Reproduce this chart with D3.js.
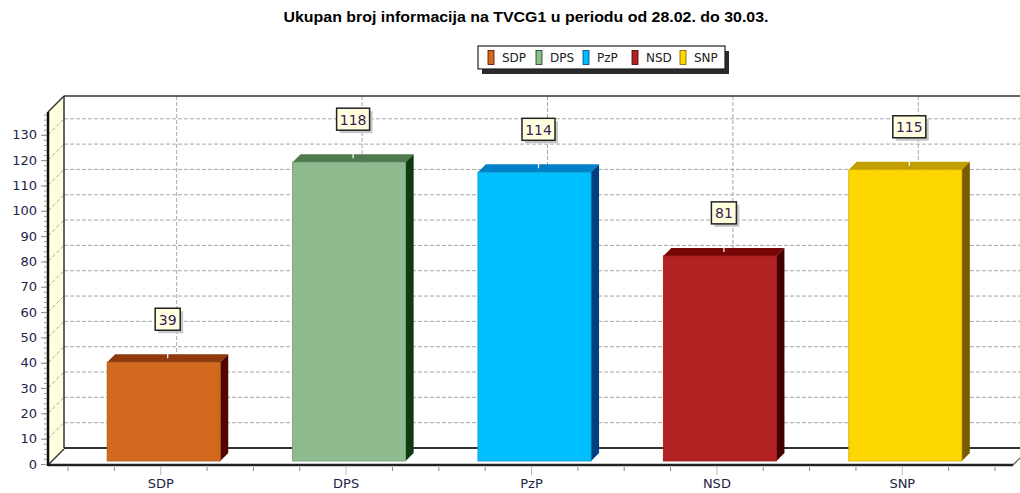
<!DOCTYPE html>
<html>
<head>
<meta charset="utf-8">
<script src="https://cdn.jsdelivr.net/npm/d3@7"></script>
<style>
  html, body { margin: 0; padding: 0; background: #fff; }
  svg { display: block; }
</style>
</head>
<body>
<script>
// chart values
const parties = ["SDP", "DPS", "PzP", "NSD", "SNP"];
const counts = [39, 118, 114, 81, 115];
const frontColors = ["#D2691E", "#8FBC8F", "#00BFFF", "#B22222", "#FFD700"];
const topColors = ["#8e3a0c", "#4f7a4f", "#0080c8", "#780606", "#c29f00"];
const sideColors = ["#520600", "#0f3a10", "#004080", "#450000", "#7a5c00"];
const yTickValues = d3.range(0, 131, 10);
const titleText = "Ukupan broj informacija na TVCG1 u periodu od 28.02. do 30.03.";

const width = 1020, height = 493;
const depth = 16;      // wall depth (px, 45 degrees)
const barShift = 3;    // bars start this far behind the front plane
const barDepth = 8;

const svg = d3.select("body").append("svg")
    .attr("width", width)
    .attr("height", height)
    .attr("viewBox", `0 0 ${width} ${height}`);

const x = d3.scaleBand(parties, [68, 995]).paddingInner(0.39).paddingOuter(0.195);
const y = d3.scaleLinear([0, 139], [464, 112]);

const left = 48, right = 1013;
const y0 = y(0);

// title
svg.append("text")
    .attr("x", 526).attr("y", 22)
    .attr("text-anchor", "middle")
    .attr("font-family", "Liberation Sans, Arial, sans-serif")
    .attr("font-weight", "bold")
    .attr("font-size", 14)
    .attr("textLength", 485)
    .attr("lengthAdjust", "spacingAndGlyphs")
    .attr("fill", "#000")
    .text(titleText);

// legend
const legend = svg.append("g").attr("transform", "translate(478,46)");
legend.append("rect").attr("x", 4).attr("y", 5).attr("width", 247).attr("height", 23).attr("fill", "#2a2a2a");
legend.append("rect").attr("width", 247).attr("height", 23).attr("fill", "#fff")
    .attr("stroke", "#222").attr("stroke-width", 1.2);
const legendX = [10, 58, 105, 154, 202];
parties.forEach((p, i) => {
  legend.append("rect")
      .attr("x", legendX[i]).attr("y", 4.5).attr("width", 6).attr("height", 14)
      .attr("fill", frontColors[i]).attr("stroke", sideColors[i]).attr("stroke-width", 0.8);
  legend.append("text")
      .attr("x", legendX[i] + 14).attr("y", 16)
      .attr("font-family", "DejaVu Sans, Verdana, sans-serif")
      .attr("font-size", 12)
      .attr("fill", "#222")
      .text(p);
});

// back wall
svg.append("rect")
    .attr("x", left + depth).attr("y", y(139) - depth)
    .attr("width", width - left - depth).attr("height", y0 - y(139))
    .attr("fill", "#fff");

// left wall
svg.append("polygon")
    .attr("points", [[left, y(139)], [left + depth, y(139) - depth], [left + depth, y0 - depth], [left, y0]].join(" "))
    .attr("fill", "#ffffe0");

const grid = svg.append("g")
    .attr("stroke", "#a8a8a8")
    .attr("stroke-dasharray", "4,2")
    .attr("fill", "none");

// horizontal gridlines on back wall + diagonals on left wall
yTickValues.filter(v => v > 0).forEach(v => {
  grid.append("line")
      .attr("x1", left + depth).attr("x2", width)
      .attr("y1", y(v) - depth).attr("y2", y(v) - depth);
  grid.append("line")
      .attr("x1", left).attr("x2", left + depth)
      .attr("y1", y(v)).attr("y2", y(v) - depth);
});
// vertical gridlines on back wall
parties.forEach(p => {
  const cx = x(p) + x.bandwidth() / 2 + depth;
  grid.append("line")
      .attr("x1", cx).attr("x2", cx)
      .attr("y1", y(139) - depth).attr("y2", y0 - depth);
});

// floor
svg.append("polygon")
    .attr("points", [[left, y0], [left + depth, y0 - depth], [right + depth, y0 - depth], [right, y0]].join(" "))
    .attr("fill", "#fff");

// frame lines
const frame = svg.append("g").attr("stroke", "#333").attr("fill", "none");
frame.append("line").attr("x1", left + depth).attr("x2", width)
    .attr("y1", y(139) - depth).attr("y2", y(139) - depth).attr("stroke-width", 1.5);
frame.append("line").attr("x1", left + depth).attr("x2", left + depth)
    .attr("y1", y(139) - depth).attr("y2", y0 - depth).attr("stroke-width", 1.5);
frame.append("line").attr("x1", left).attr("x2", left + depth)
    .attr("y1", y(139)).attr("y2", y(139) - depth).attr("stroke-width", 1.5);
frame.append("line").attr("x1", left + depth).attr("x2", width)
    .attr("y1", y0 - depth).attr("y2", y0 - depth).attr("stroke-width", 2);
frame.append("line").attr("x1", left).attr("x2", left + depth)
    .attr("y1", y0 + 1).attr("y2", y0 + 1 - depth).attr("stroke-width", 1.5);
frame.append("line").attr("x1", right).attr("x2", right + depth)
    .attr("y1", y0 + 1).attr("y2", y0 + 1 - depth).attr("stroke-width", 1.2).attr("stroke", "#555");
frame.append("line").attr("x1", left).attr("x2", right)
    .attr("y1", y0 + 1).attr("y2", y0 + 1).attr("stroke-width", 2.5).attr("stroke", "#222");
frame.append("line").attr("x1", left).attr("x2", left)
    .attr("y1", y(139)).attr("y2", y0 + 2).attr("stroke-width", 2.5).attr("stroke", "#111");

// y axis
const yAxis = d3.axisLeft(y).tickValues(yTickValues).tickSize(6).tickPadding(4);
svg.append("g")
    .attr("transform", `translate(${left - 1},0)`)
    .call(yAxis)
    .call(g => g.select(".domain").remove())
    .call(g => g.selectAll(".tick line").attr("stroke", "#888"))
    .call(g => g.selectAll(".tick text")
        .attr("font-family", "DejaVu Sans, Verdana, sans-serif")
        .attr("font-size", 13)
        .attr("fill", "#1e2448"));
// minor y ticks
svg.append("g")
    .attr("transform", `translate(${left - 1},0)`)
    .call(d3.axisLeft(y).tickValues(d3.range(0, 139, 2)).tickSize(3).tickFormat(""))
    .call(g => g.select(".domain").remove())
    .call(g => g.selectAll(".tick line").attr("stroke", "#999"));

// x axis
const xAxis = d3.axisBottom(x).tickSize(0).tickPadding(15);
svg.append("g")
    .attr("transform", `translate(0,${y0})`)
    .call(xAxis)
    .call(g => g.select(".domain").remove())
    .call(g => g.selectAll(".tick text")
        .attr("font-family", "DejaVu Sans, Verdana, sans-serif")
        .attr("font-size", 13)
        .attr("fill", "#1e2448"));
// quarter-band ticks on x axis
const step = x.step();
const xTicks = d3.range(0, parties.length * 4 + 1).map(i => x(parties[0]) - x.paddingInner() * step / 2 + i * step / 4);
svg.append("g").selectAll("line")
    .data(xTicks)
    .join("line")
    .attr("x1", d => d).attr("x2", d => d)
    .attr("y1", y0 + 3).attr("y2", (d, i) => i % 4 === 2 ? y0 + 11 : y0 + 7)
    .attr("stroke", (d, i) => i % 4 === 2 ? "#bbb" : "#888");

// bars
const bars = svg.append("g").selectAll("g")
    .data(parties.map((p, i) => ({ p, v: counts[i], i })))
    .join("g");

bars.each(function (d) {
  const g = d3.select(this);
  const bx = x(d.p) + barShift;
  const bw = x.bandwidth();
  const yt = y(d.v) - barShift;
  const yb = y0 - barShift;
  g.append("polygon")
      .attr("points", [[bx, yt], [bx + barDepth, yt - barDepth], [bx + bw + barDepth, yt - barDepth], [bx + bw, yt]].join(" "))
      .attr("fill", topColors[d.i]);
  g.append("polygon")
      .attr("points", [[bx + bw, yt], [bx + bw + barDepth, yt - barDepth], [bx + bw + barDepth, yb - barDepth], [bx + bw, yb]].join(" "))
      .attr("fill", sideColors[d.i]);
  g.append("rect")
      .attr("x", bx).attr("y", yt).attr("width", bw).attr("height", yb - yt)
      .attr("fill", frontColors[d.i])
      .attr("stroke", d3.color(frontColors[d.i]).darker(0.6)).attr("stroke-width", 0.8);

  // value label
  const cx = bx + bw / 2 + barDepth / 2;
  g.append("line")
      .attr("x1", cx).attr("x2", cx)
      .attr("y1", yt - barDepth / 2).attr("y2", yt - 14)
      .attr("stroke", "#fff").attr("stroke-width", 1.2);
  const label = String(d.v);
  const bwBox = label.length > 2 ? 33 : 25;
  const boxBottom = yt - 32;
  g.append("rect")
      .attr("x", cx - bwBox / 2 + 3).attr("y", boxBottom - 22 + 3)
      .attr("width", bwBox).attr("height", 22)
      .attr("fill", "#c8c8c8");
  g.append("rect")
      .attr("x", cx - bwBox / 2).attr("y", boxBottom - 22)
      .attr("width", bwBox).attr("height", 22)
      .attr("fill", "#ffffe0").attr("stroke", "#222").attr("stroke-width", 1.5);
  g.append("text")
      .attr("x", cx).attr("y", boxBottom - 5.5)
      .attr("text-anchor", "middle")
      .attr("font-family", "DejaVu Sans, Verdana, sans-serif")
      .attr("font-size", 14)
      .attr("fill", "#3a2050")
      .text(label);
});
</script>
</body>
</html>
